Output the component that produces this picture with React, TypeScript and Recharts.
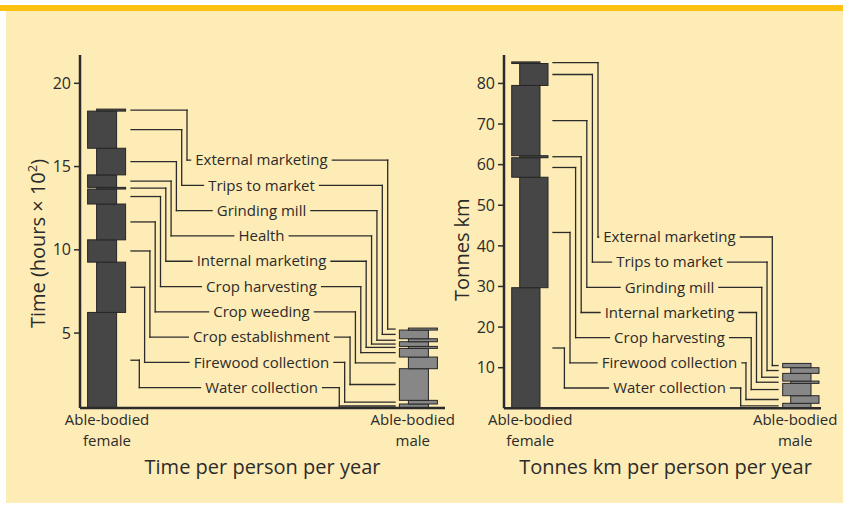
import { Bar, Cell, ComposedChart, ReferenceDot, ReferenceLine, XAxis, YAxis } from "recharts";

// activities are listed from the bottom of the stack upwards
const timeActivities = [
  "Water collection",
  "Firewood collection",
  "Crop establishment",
  "Crop weeding",
  "Crop harvesting",
  "Internal marketing",
  "Health",
  "Grinding mill",
  "Trips to market",
  "External marketing",
];
const timeFemale = [6.24, 3.02, 1.34, 2.15, 0.9, 0.1, 0.75, 1.6, 2.23, 0.12];
const timeMale = [0.74, 0.22, 1.9, 0.7, 0.52, 0.12, 0.28, 0.18, 0.52, 0.12];
const timeTicks = [5, 10, 15, 20];

const transportActivities = [
  "Water collection",
  "Firewood collection",
  "Crop harvesting",
  "Internal marketing",
  "Grinding mill",
  "Trips to market",
  "External marketing",
];
const transportFemale = [29.7, 27.2, 4.8, 0.5, 17.3, 5.4, 0.4];
const transportMale = [1.23, 1.87, 3.04, 0.56, 1.9, 1.4, 1.05];
const transportTicks = [10, 20, 30, 40, 50, 60, 70, 80];

const groupLabels = [
  ["Able-bodied", "female"],
  ["Able-bodied", "male"],
];

const W = 843;
const H = 505;
const PANEL = "#FEECB6";
const STRIPE = "#FDC112";
const INK = "#2b2b2b";
const FEMALE = "#464646";
const MALE = "#878787";
const FONT = "'Open Sans', sans-serif";

type Layout = {
  plotLeft: number;
  plotRight: number;
  top: number;
  bottom: number;
  yDomain: [number, number];
  barX: number[];
  barWidth: number;
  shift: number;
  femaleEnd: number;
  femaleChannel: number;
  femaleStep: number;
  labelX: number;
  rowTop: number;
  rowStep: number;
  maleChannel: number;
  maleStep: number;
  maleEnd: number;
  yTitleDy: number;
  xTitleDx: number;
};

const timeLayout: Layout = {
  plotLeft: 80,
  plotRight: 445,
  top: 55,
  bottom: 408,
  yDomain: [0.5, 21.7],
  barX: [107, 418.8],
  barWidth: 29,
  shift: 4.5,
  femaleEnd: 131,
  femaleChannel: 187,
  femaleStep: 5.3,
  labelX: 261.5,
  rowTop: 15.39,
  rowStep: 1.519,
  maleChannel: 387.7,
  maleStep: 5.38,
  maleEnd: 395,
  yTitleDy: 12,
  xTitleDx: 0,
};

const transportLayout: Layout = {
  plotLeft: 504,
  plotRight: 821,
  top: 55,
  bottom: 408.3,
  yDomain: [0, 87],
  barX: [530.2, 801.2],
  barWidth: 28.3,
  shift: 4,
  femaleEnd: 553,
  femaleChannel: 598,
  femaleStep: 5.6,
  labelX: 669.5,
  rowTop: 42.18,
  rowStep: 6.197,
  maleChannel: 772.3,
  maleStep: 5.27,
  maleEnd: 778,
  yTitleDy: 18,
  xTitleDx: 3,
};

let measureCtx: CanvasRenderingContext2D | null = null;
function textWidth(text: string, font: string) {
  if (!measureCtx) measureCtx = document.createElement("canvas").getContext("2d");
  if (!measureCtx) return text.length * 7.3;
  measureCtx.font = font;
  return measureCtx.measureText(text).width;
}

function ActivityLabel({ cx, cy, text }: any) {
  const w = textWidth(text, `15px ${FONT}`);
  return (
    <g>
      <rect x={cx - w / 2 - 4} y={cy - 9} width={w + 8} height={18} fill={PANEL} />
      <text x={cx} y={cy} dy="0.35em" textAnchor="middle" fontSize={15} fontFamily={FONT} fill={INK}>
        {text}
      </text>
    </g>
  );
}

const barShape = (side: number, L: Layout) => (props: any) => {
  const { x, y, width, height, fill } = props;
  const c = x + width / 2 + side * L.shift;
  return (
    <rect
      x={c - L.barWidth / 2}
      y={y}
      width={L.barWidth}
      height={Math.max(height, 0)}
      fill={fill}
      stroke="#262626"
      strokeWidth={1}
    />
  );
};

function StackChart({ activities, female, male, ticks, layout: L, yTitle, xTitle }: any) {
  const rows = [female, male].map((vals: number[], g: number) => {
    const row: Record<string, number> = { x: L.barX[g] };
    activities.forEach((a: string, k: number) => (row[a] = vals[k]));
    return row;
  });

  const cumulative = (vals: number[]) => {
    const out: number[] = [];
    vals.forEach((v, k) => out.push((k ? out[k - 1] : 0) + v));
    return out;
  };
  const fTop = cumulative(female);
  const mTop = cumulative(male);
  const mid = (top: number[], k: number) => {
    const lo = Math.max(k ? top[k - 1] : 0, L.yDomain[0]);
    return (lo + top[k]) / 2;
  };

  const n = activities.length;
  const leaders = activities.map((name: string, k: number) => {
    const i = n - 1 - k;
    const fy = mid(fTop, k);
    const my = mid(mTop, k);
    const row = L.rowTop - i * L.rowStep;
    const fx = L.femaleChannel - i * L.femaleStep;
    const mx = L.maleChannel - i * L.maleStep;
    return {
      name,
      row,
      points: [
        [L.femaleEnd, fy],
        [fx, fy],
        [fx, row],
        [mx, row],
        [mx, my],
        [L.maleEnd, my],
      ],
    };
  });

  const groupTick = (p: any) => {
    const g = L.barX.indexOf(p.payload.value);
    const lines = groupLabels[g] || [];
    const x = p.x + (g === 1 ? -6 : 0);
    return (
      <g>
        {lines.map((t: string, j: number) => (
          <text
            key={t}
            x={x}
            y={p.y + 17 + j * 20.5}
            textAnchor="middle"
            fontSize={15}
            fontFamily={FONT}
            fill={INK}
          >
            {t}
          </text>
        ))}
      </g>
    );
  };

  const xTitleContent = (p: any) => {
    const vb = p.viewBox;
    return (
      <text
        x={vb.x + vb.width / 2 + L.xTitleDx}
        y={vb.y + 66}
        textAnchor="middle"
        fontSize={20}
        fontFamily={FONT}
        fill={INK}
      >
        {xTitle}
      </text>
    );
  };

  const yTitleContent = (p: any) => {
    const vb = p.viewBox;
    const x = vb.x + vb.width - 42;
    const y = vb.y + vb.height / 2 + L.yTitleDy;
    return (
      <text
        x={x}
        y={y}
        dy="0.35em"
        transform={`rotate(-90 ${x} ${y})`}
        textAnchor="middle"
        fontSize={20}
        fontFamily={FONT}
        fill={INK}
      >
        {yTitle}
      </text>
    );
  };

  return (
    <ComposedChart
      width={W}
      height={H}
      data={rows}
      margin={{ top: L.top, right: W - L.plotRight, bottom: 0, left: 0 }}
    >
      <XAxis
        type="number"
        dataKey="x"
        domain={[L.plotLeft, L.plotRight]}
        allowDataOverflow
        ticks={L.barX}
        interval={0}
        tickLine={false}
        tickSize={0}
        tickMargin={0}
        axisLine={{ stroke: INK, strokeWidth: 2.5 }}
        height={H - L.bottom}
        tick={groupTick}
        label={xTitleContent}
      />
      <YAxis
        type="number"
        domain={L.yDomain}
        allowDataOverflow
        ticks={ticks}
        interval={0}
        width={L.plotLeft}
        tickSize={6}
        tickMargin={3}
        tickLine={{ stroke: INK, strokeWidth: 1.5 }}
        axisLine={{ stroke: INK, strokeWidth: 2.5 }}
        tick={{ fill: INK, fontSize: 16, fontFamily: FONT }}
        label={yTitleContent}
      />
      {activities.map((a: string, k: number) => (
        <Bar
          key={a}
          dataKey={a}
          stackId="s"
          barSize={L.barWidth}
          isAnimationActive={false}
          shape={barShape(k % 2 ? 1 : -1, L)}
        >
          {rows.map((_: any, g: number) => (
            <Cell key={g} fill={g ? MALE : FEMALE} />
          ))}
        </Bar>
      ))}
      {leaders.flatMap((ld: any) =>
        ld.points.slice(1).map((p: number[], j: number) => (
          <ReferenceLine
            key={`${ld.name}-${j}`}
            segment={[
              { x: ld.points[j][0], y: ld.points[j][1] },
              { x: p[0], y: p[1] },
            ]}
            stroke={INK}
            strokeWidth={1.3}
            strokeLinecap="square"
            ifOverflow="visible"
          />
        ))
      )}
      {leaders.map((ld: any) => (
        <ReferenceDot
          key={`label-${ld.name}`}
          x={L.labelX}
          y={ld.row}
          r={1}
          ifOverflow="visible"
          shape={(p: any) => <ActivityLabel cx={p.cx} cy={p.cy} text={ld.name} />}
        />
      ))}
    </ComposedChart>
  );
}

export default function App() {
  return (
    <div style={{ position: "absolute", left: 0, top: 0, width: W, height: H, background: "#fff", overflow: "hidden" }}>
      <div style={{ position: "absolute", left: 0, top: 5, width: W, height: 6, background: STRIPE }} />
      <div style={{ position: "absolute", left: 6, top: 11, width: W - 6, height: 492, background: PANEL }} />
      <div style={{ position: "absolute", left: 0, top: 0 }}>
        <StackChart
          activities={timeActivities}
          female={timeFemale}
          male={timeMale}
          ticks={timeTicks}
          layout={timeLayout}
          xTitle="Time per person per year"
          yTitle={
            <>
              Time (hours × 10
              <tspan fontSize={13} dy={-8}>
                2
              </tspan>
              <tspan dy={8}>)</tspan>
            </>
          }
        />
      </div>
      <div style={{ position: "absolute", left: 0, top: 0, pointerEvents: "none" }}>
        <StackChart
          activities={transportActivities}
          female={transportFemale}
          male={transportMale}
          ticks={transportTicks}
          layout={transportLayout}
          xTitle="Tonnes km per person per year"
          yTitle="Tonnes km"
        />
      </div>
    </div>
  );
}
